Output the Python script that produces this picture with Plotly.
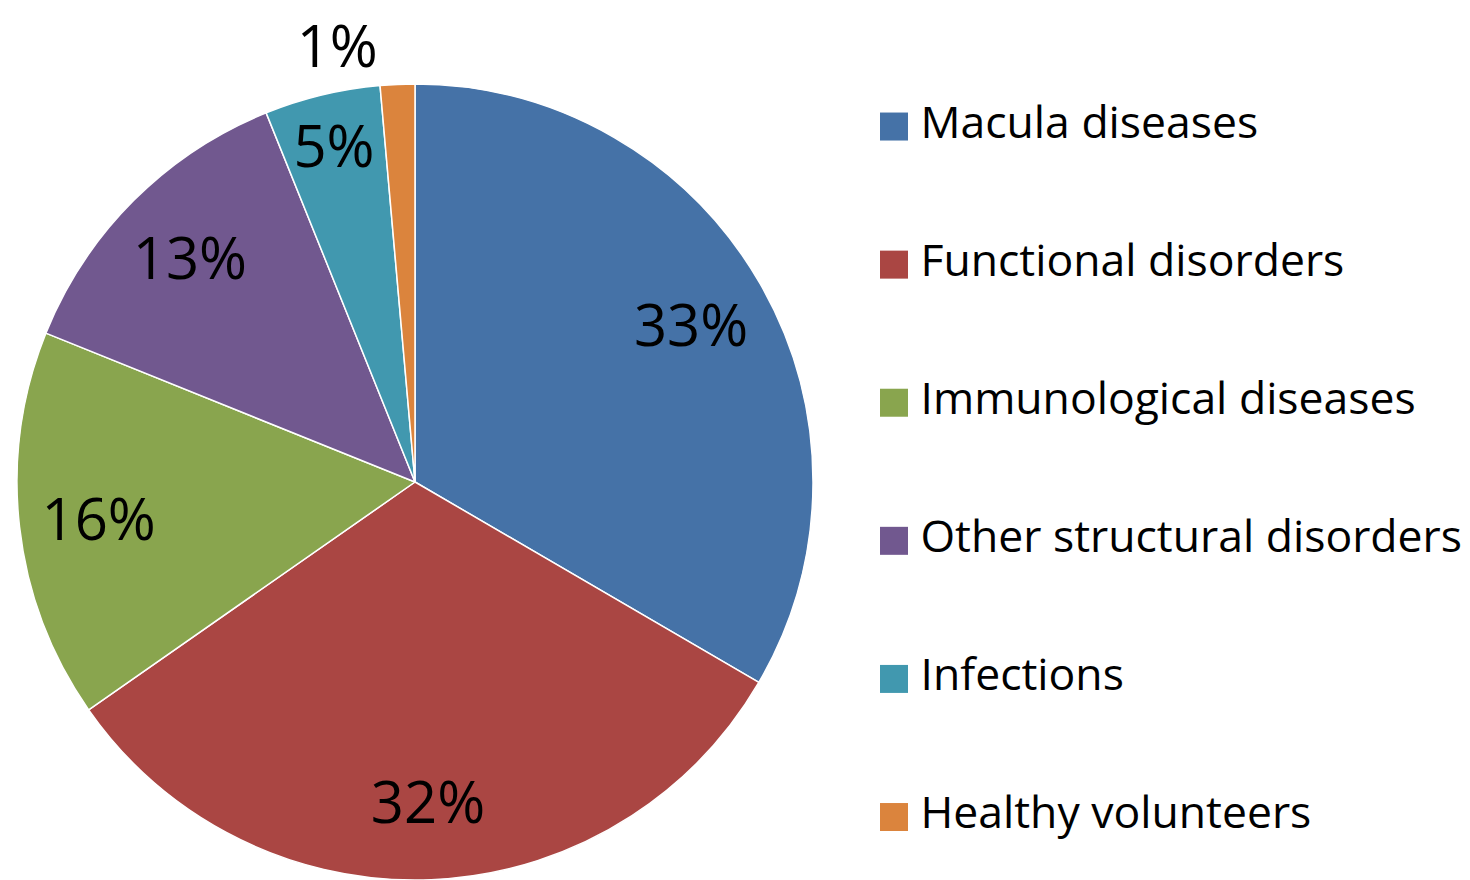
import plotly.graph_objects as go

categories = ["Macula diseases", "Functional disorders", "Immunological diseases",
              "Other structural disorders", "Infections", "Healthy volunteers"]
values = [33.4, 31.9, 15.8, 12.8, 4.7, 1.4]
colors = ["#4572A7", "#AA4643", "#89A54E", "#71588F", "#4198AF", "#DB843D"]
text_positions = ["inside", "inside", "inside", "inside", "inside", "outside"]

W, H = 1462, 872  # the page body adds an 8px margin around the figure
pie_domain = dict(x=[5 / W, 809 / W], y=[0, 1])

fig = go.Figure()
# the pie itself
fig.add_trace(go.Pie(
    labels=categories, values=values, sort=False, direction="clockwise", rotation=0,
    marker=dict(colors=colors, line=dict(color="white", width=1.5)),
    textinfo="none", showlegend=False, hoverinfo="label+percent",
    domain=pie_domain,
))
# transparent ring on the same data carrying the percentage labels (near 0.8 R)
fig.add_trace(go.Pie(
    labels=categories, values=values, sort=False, direction="clockwise", rotation=0,
    hole=0.6,
    marker=dict(colors=["rgba(0,0,0,0)"] * len(values), line=dict(width=0)),
    texttemplate="%{percent:.0%}", textposition=text_positions,
    insidetextorientation="horizontal",
    textfont=dict(family="Open Sans", size=58, color="black"),
    outsidetextfont=dict(family="Open Sans", size=52, color="black"),
    showlegend=False, hoverinfo="skip",
    domain=pie_domain,
))

# legend drawn as categorical scatter on hidden axes
fig.add_trace(go.Scatter(
    x=[0 for _ in categories], y=categories, mode="markers",
    marker=dict(symbol="square", size=28, color=colors, line=dict(width=0)),
    showlegend=False, hoverinfo="skip", cliponaxis=False,
))
fig.add_trace(go.Scatter(
    x=[0.046 for _ in categories], y=categories, mode="text",
    text=categories, textposition="middle right",
    textfont=dict(family="Open Sans", size=44.5, color="black"),
    showlegend=False, hoverinfo="skip", cliponaxis=False,
))

fig.update_layout(
    width=W, height=H,
    margin=dict(l=0, r=0, t=76, b=0, autoexpand=False),
    paper_bgcolor="white", plot_bgcolor="white",
    uniformtext=dict(minsize=58, mode="show"),
    xaxis=dict(domain=[886 / W, 1.0], range=[0, 1], visible=False, fixedrange=True),
    yaxis=dict(domain=[0, 1], type="category", categoryorder="array",
               categoryarray=categories, range=[5.456, -0.308],
               visible=False, fixedrange=True),
)

fig.write_html("out.html")
